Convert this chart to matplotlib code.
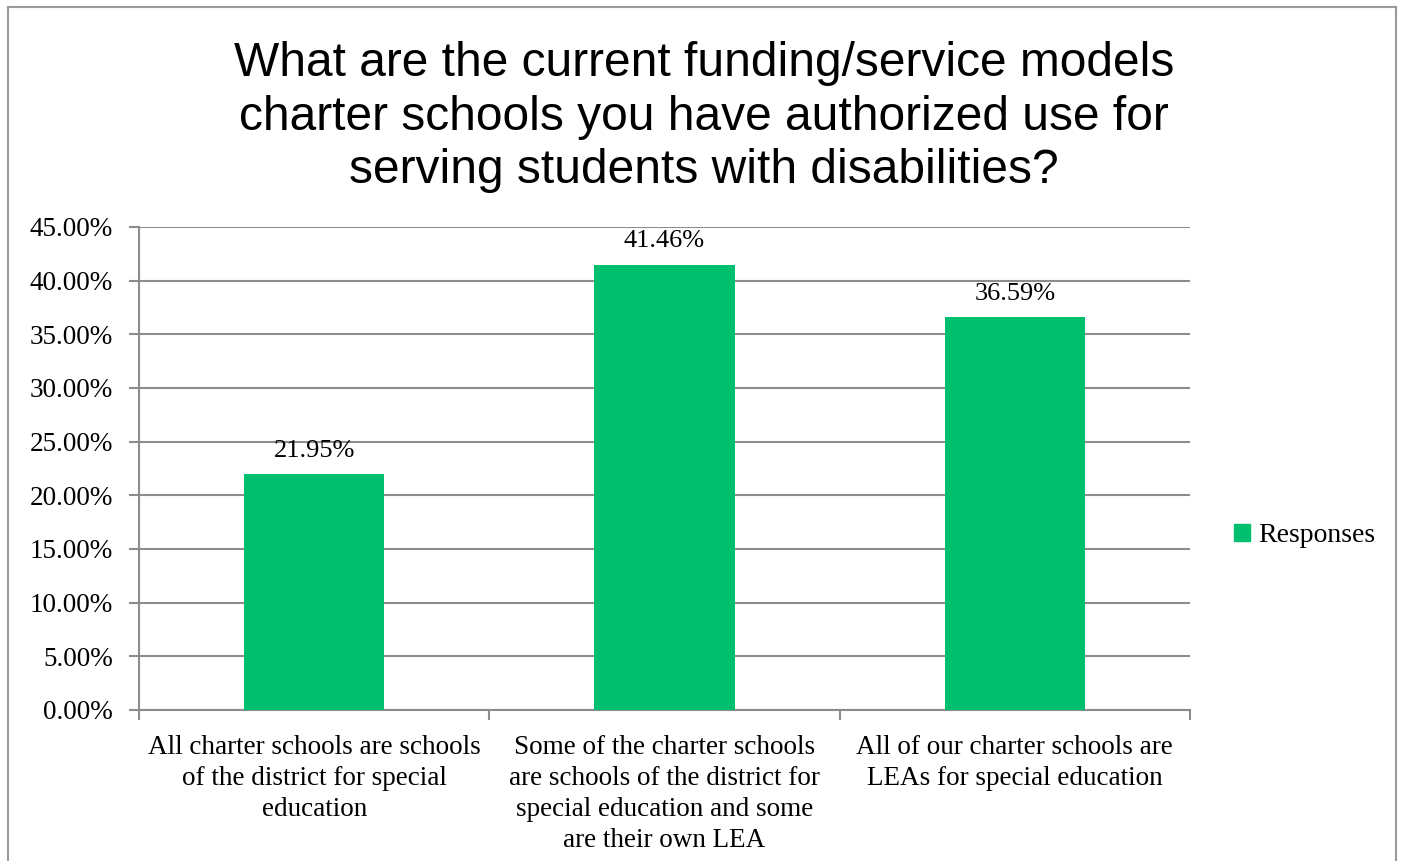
import matplotlib.pyplot as plt
from matplotlib.lines import Line2D
from matplotlib.patches import Patch

# survey results
categories = [
    "All charter schools are schools\nof the district for special\neducation",
    "Some of the charter schools\nare schools of the district for\nspecial education and some\nare their own LEA",
    "All of our charter schools are\nLEAs for special education",
]
responses = [21.95, 41.46, 36.59]
y_ticks = [0, 5, 10, 15, 20, 25, 30, 35, 40, 45]

green = "#00BF6F"
grey = "#8C8C8C"
serif = "Liberation Serif"

fig = plt.figure(figsize=(14.03, 8.61), dpi=100)
ax = fig.add_axes([0.0991, 0.1754, 0.7491, 0.5610])

x = list(range(len(categories)))
bars = ax.bar(x, responses, width=0.4, color=green, zorder=3, label="Responses")

for b, v in zip(bars, responses):
    ax.annotate(f"{v:.2f}%", (b.get_x() + b.get_width() / 2, v),
                xytext=(0, 9), textcoords="offset points",
                ha="center", va="bottom", fontsize=19, family=serif)

ax.set_xlim(-0.5, len(categories) - 0.5)
ax.set_ylim(0, 45)
ax.set_yticks(y_ticks)
ax.set_yticklabels([f"{t:.2f}%" for t in y_ticks], family=serif, fontsize=19.5)
ax.yaxis.grid(True, color=grey, linewidth=1.5, zorder=0)

# category labels centered, boundary tick marks between them
ax.set_xticks(x)
ax.set_xticklabels(categories, family=serif, fontsize=19.5, linespacing=1.32)
ax.set_xticks([i - 0.5 for i in range(len(categories) + 1)], minor=True)
ax.tick_params(axis="x", which="major", length=0, pad=18)
ax.tick_params(axis="x", which="minor", length=7, width=1.5, color=grey)
ax.tick_params(axis="y", length=7, width=1.5, color=grey, pad=12)

for s in ["top", "right"]:
    ax.spines[s].set_visible(False)
for s in ["left", "bottom"]:
    ax.spines[s].set_color(grey)
    ax.spines[s].set_linewidth(1.5)

fig.text(0.502, 0.864,
         "What are the current funding/service models\ncharter schools you have authorized use for\nserving students with disabilities?",
         ha="center", va="center", fontsize=34.5, family="Liberation Sans",
         linespacing=1.25)

fig.legend(handles=[Patch(color=green, label="Responses")],
           loc="center left", bbox_to_anchor=(0.862, 0.378), frameon=False,
           prop={"family": serif, "size": 20}, handlelength=0.55,
           handleheight=0.55, handletextpad=0.3)

# chart border (open at the bottom edge)
bx0, bx1, by1 = 8 / 1403, 1396 / 1403, 1 - 7 / 861
for xs, ys in [([bx0, bx0], [0, by1]), ([bx0, bx1], [by1, by1]), ([bx1, bx1], [by1, 0])]:
    fig.add_artist(Line2D(xs, ys, color="#9A9A9A", linewidth=1.5, transform=fig.transFigure))

fig.savefig("out.png", dpi=100)
